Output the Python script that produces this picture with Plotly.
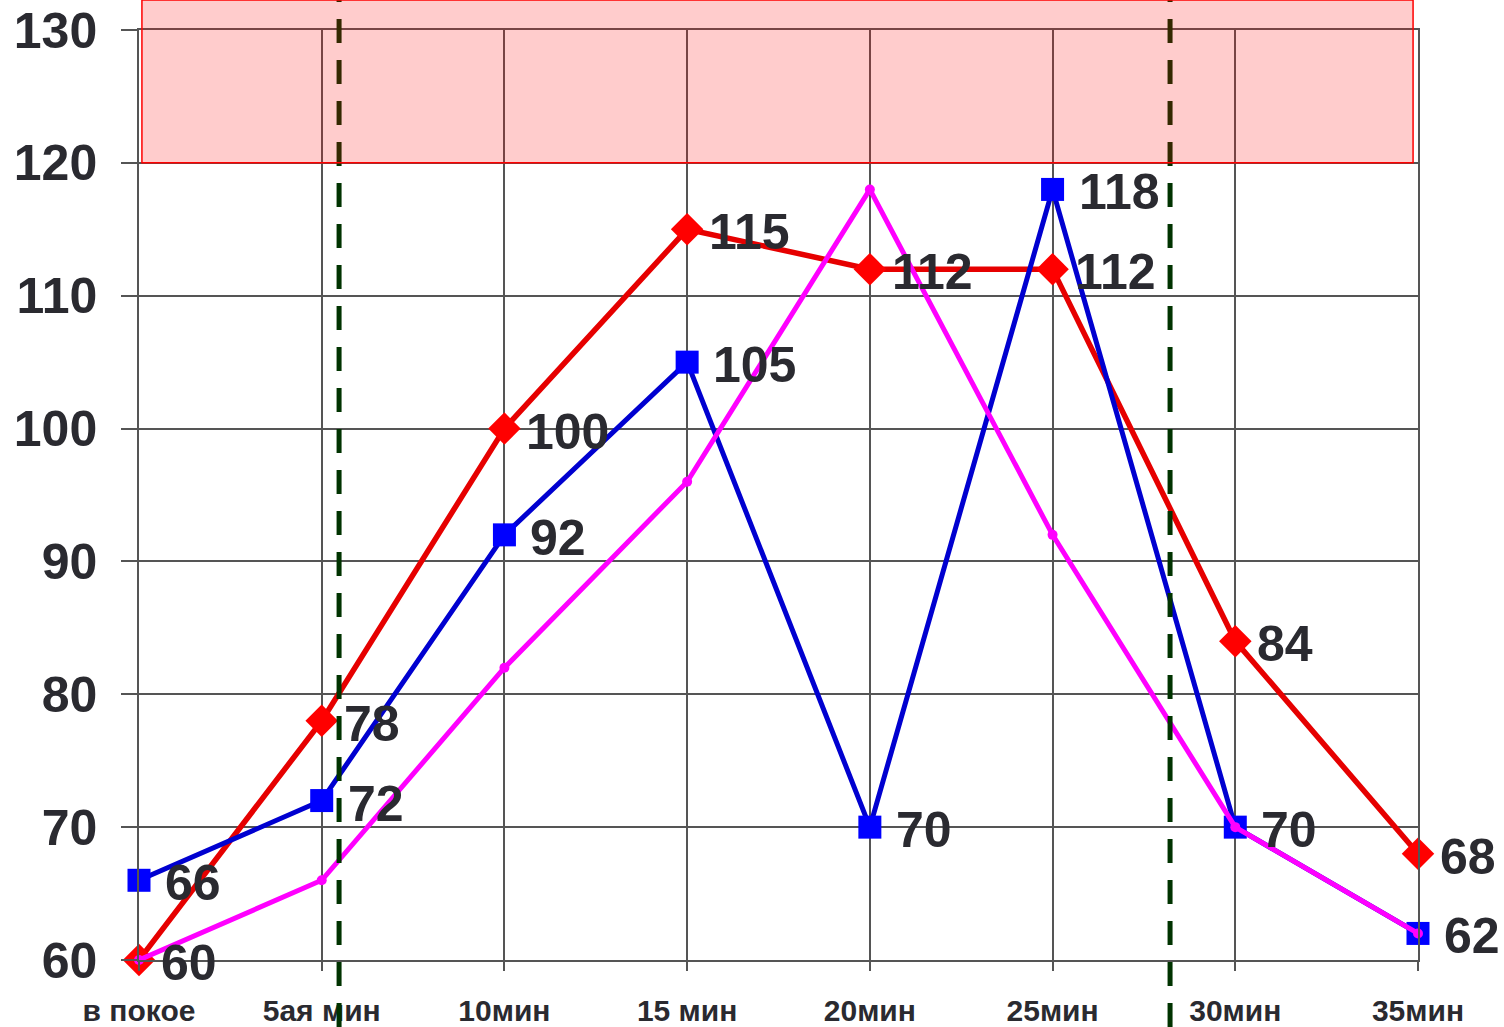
import plotly.graph_objects as go

categories = ["в покое", "5ая мин", "10мин", "15 мин", "20мин", "25мин", "30мин", "35мин"]
red_values = [60, 78, 100, 115, 112, 112, 84, 68]
blue_values = [66, 72, 92, 105, 70, 118, 70, 62]
magenta_values = [60, 66, 82, 96, 118, 92, 70, 62]
y_ticks = [60, 70, 80, 90, 100, 110, 120, 130]

# layout geometry
W, H = 1504, 1027
ML, MR, MT, MB = 139, 86, 30, 67
X_RANGE = [0, len(categories) - 1]
Y_RANGE = [60, 130]
plot_w = W - ML - MR
plot_h = H - MT - MB

def xp(v):
    return (v - X_RANGE[0]) / (X_RANGE[1] - X_RANGE[0])

def yp(v):
    return (v - Y_RANGE[0]) / (Y_RANGE[1] - Y_RANGE[0])

top_paper = 1 + MT / plot_h
bottom_paper = -MB / plot_h

xs = list(range(len(categories)))

fig = go.Figure()
fig.add_trace(go.Scatter(x=xs, y=red_values, mode="lines+markers",
                         line=dict(color="#E60000", width=5.5),
                         marker=dict(symbol="diamond", size=25, color="#FF0000"),
                         cliponaxis=False, showlegend=False))
fig.add_trace(go.Scatter(x=xs, y=blue_values, mode="lines+markers",
                         line=dict(color="#0000D0", width=5),
                         marker=dict(symbol="square", size=23, color="#0000FF"),
                         cliponaxis=False, showlegend=False))
fig.add_trace(go.Scatter(x=xs, y=magenta_values, mode="lines+markers",
                         line=dict(color="#FF00FF", width=5),
                         marker=dict(symbol="circle", size=10, color="#FF00FF"),
                         cliponaxis=False, showlegend=False))

label_font = dict(family="Liberation Sans, Arial, sans-serif", size=50, color="#2a2a30")
annotations = []
for i, v in enumerate(red_values):
    annotations.append(dict(x=xs[i], y=v, xref="x", yref="y", text=f"<b>{v}</b>",
                            showarrow=False, xanchor="left", yanchor="middle",
                            xshift=20, yshift=-3, font=label_font))
for i, v in enumerate(blue_values):
    annotations.append(dict(x=xs[i], y=v, xref="x", yref="y", text=f"<b>{v}</b>",
                            showarrow=False, xanchor="left", yanchor="middle",
                            xshift=24, yshift=-3, font=label_font))

shapes = []
for xv in [1.095, 5.643]:
    shapes.append(dict(type="line", xref="paper", yref="paper",
                       x0=xp(xv), x1=xp(xv), y0=bottom_paper, y1=top_paper,
                       line=dict(color="#003300", width=5, dash="24px,17px"),
                       layer="above"))
shapes.append(dict(type="rect", xref="paper", yref="paper",
                   x0=xp(0.016), x1=xp(6.973), y0=yp(120), y1=top_paper,
                   fillcolor="rgba(255,0,0,0.2)",
                   line=dict(color="#FF0000", width=1.5), layer="above"))

fig.update_layout(
    width=W, height=H,
    margin=dict(l=ML, r=MR, t=MT, b=MB, autoexpand=False),
    paper_bgcolor="white", plot_bgcolor="white",
    annotations=annotations, shapes=shapes,
    xaxis=dict(range=X_RANGE, tickmode="array", tickvals=xs, ticktext=[f"<b>{c}</b>" for c in categories],
               showgrid=True, gridcolor="#555555", gridwidth=1.5,
               showline=True, linecolor="#555555", linewidth=1.5, mirror=True,
               ticks="outside", ticklen=9, tickcolor="#555555", tickwidth=1.5,
               ticklabelstandoff=14, automargin=False,
               tickfont=dict(family="Liberation Sans, Arial, sans-serif", size=30, color="#2a2a30"),
               zeroline=False, fixedrange=True),
    yaxis=dict(range=Y_RANGE, tickmode="array", tickvals=y_ticks,
               ticktext=[f"<b>{t}</b>" for t in y_ticks],
               showgrid=True, gridcolor="#555555", gridwidth=1.5,
               showline=True, linecolor="#555555", linewidth=1.5, mirror=True,
               ticks="outside", ticklen=16, tickcolor="#555555", tickwidth=1.5,
               ticklabelstandoff=14, automargin=False,
               tickfont=dict(family="Liberation Sans, Arial, sans-serif", size=50, color="#2a2a30"),
               zeroline=False, fixedrange=True),
)

fig.write_html("out.html", config={"displayModeBar": False},
               post_script="document.body.style.margin='0';document.body.style.overflow='hidden';")
